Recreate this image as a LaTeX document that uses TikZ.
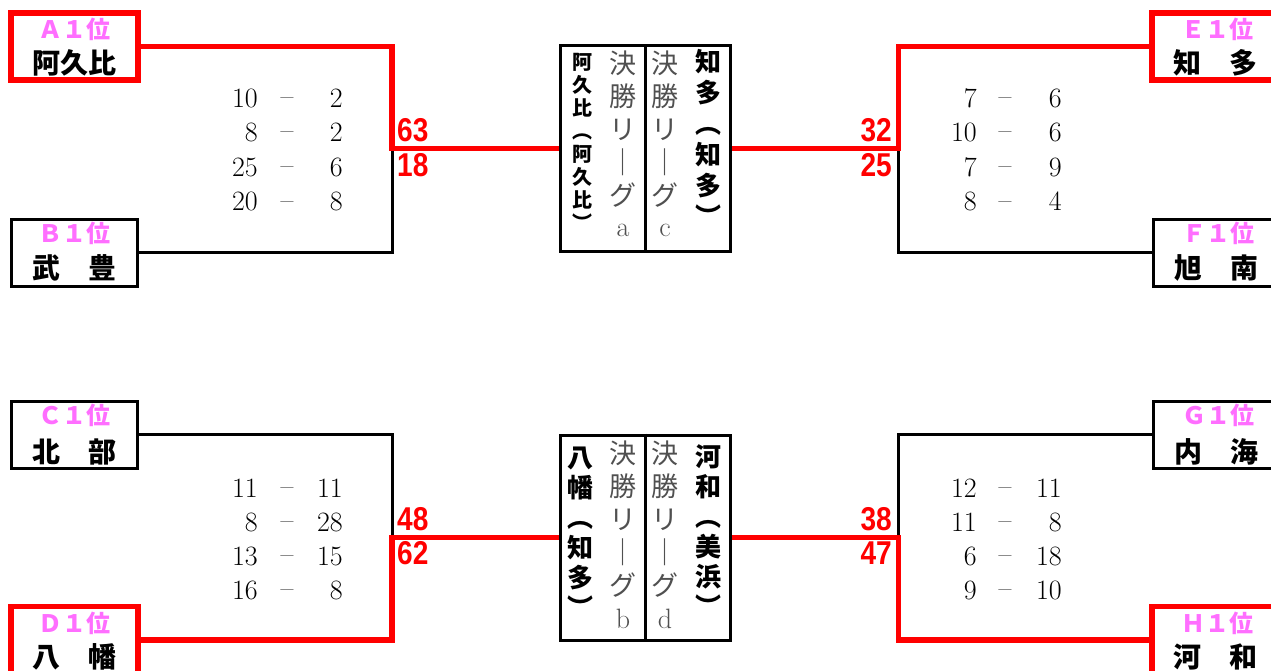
\documentclass[tikz,border=0pt]{standalone}
\usepackage{fontspec}
\newfontfamily\jp{Noto Sans CJK JP}
\newfontfamily\narrowf{Liberation Sans}[FakeStretch=0.85]
\definecolor{pinkl}{RGB}{255,110,255}
\definecolor{redl}{RGB}{255,0,0}
\definecolor{grayt}{RGB}{80,80,80}
\newcommand\scorerow[7]{%
  \node[score,anchor=east] (#1a) at (#2,#5) {#6};
  \node[score,yshift=2pt] (#1d) at (#3,#5) {--};
  \node[score,anchor=east] (#1b) at (#4,#5) {#7};}
\tikzset{
  redbox/.style={draw=redl, line width=5.5pt, minimum width=127pt, minimum height=67pt, inner sep=0pt},
  blackbox/.style={draw=black, line width=3pt, minimum width=126pt, minimum height=67pt, inner sep=0pt},
  lbl/.style={font=\jp\bfseries\fontsize{24}{24}\selectfont, text=pinkl, inner sep=0pt},
  team/.style={font=\jp\bfseries\fontsize{28}{28}\selectfont, text=black, inner sep=0pt},
  redline/.style={draw=redl, line width=5.5pt, line join=miter},
  blkline/.style={draw=black, line width=3pt, line join=miter},
  score/.style={font=\fontsize{28}{28}\selectfont, inner sep=0pt, text height=18pt, text depth=0pt},
  tot/.style={font=\narrowf\bfseries\fontsize{33}{33}\selectfont, text=redl, inner sep=0pt},
  midbox/.style={draw=black, line width=3pt, minimum width=170pt, minimum height=205pt, inner sep=0pt},
  vbs/.style={inner sep=0pt, text height=17pt, text depth=2pt, font=\jp\bfseries\fontsize{20}{20}\selectfont},
  vbl/.style={inner sep=0pt, text height=22pt, text depth=2.6pt, font=\jp\bfseries\fontsize{26}{26}\selectfont},
  vg/.style={inner sep=0pt, text height=23pt, text depth=2.7pt, font=\jp\fontsize{27}{27}\selectfont, text=grayt},
  vgl/.style={font=\fontsize{28}{28}\selectfont, text=grayt, inner sep=0pt},
}
\begin{document}
\begin{tikzpicture}[x=1pt,y=-1pt]
\fill[white] (0,0) rectangle (1271,671);
\useasboundingbox (0,0) rectangle (1271,671);

% team boxes
\node[redbox] (A) at (74.5,46.5) {};
\node[blackbox] (B) at (74,252.5) {};
\node[blackbox] (C) at (74,434.5) {};
\node[redbox] (D) at (74.5,640) {};
\node[redbox] (E) at (1215.5,46.5) {};
\node[blackbox] (F) at (1216.5,252.5) {};
\node[blackbox] (G) at (1216.5,434.5) {};
\node[redbox] (H) at (1215.5,640) {};

% centre boxes
\node[midbox] (M1) at (645,148.5) {};
\node[midbox] (M2) at (645,537.5) {};
\draw[blkline] (M1.north) -- (M1.south);
\draw[blkline] (M2.north) -- (M2.south);

% junctions
\coordinate (j1) at (392,148.5);
\coordinate (j2) at (898.5,148.5);
\coordinate (j3) at (392,537.5);
\coordinate (j4) at (898.5,537.5);

% connectors
\draw[blkline] (B.east) -| (j1);
\draw[redline] (A.east) -| (j1) -- (M1.west);
\draw[blkline] (F.west) -| (j2);
\draw[redline] (E.west) -| (j2) -- (M1.east);
\draw[blkline] (C.east) -| (j3);
\draw[redline] (D.east) -| (j3) -- (M2.west);
\draw[blkline] (G.west) -| (j4);
\draw[redline] (H.west) -| (j4) -- (M2.east);

% box labels
\node[lbl] (Al) at ([yshift=17.5pt]A.center) {Ａ１位};
\node[team] (An) at ([yshift=-16.5pt]A.center) {阿久比};
\node[lbl] (Bl) at ([yshift=19.5pt]B.center) {Ｂ１位};
\node[team] (Bn) at ([yshift=-15.5pt]B.center) {武　豊};
\node[lbl] (Cl) at ([yshift=19pt]C.center) {Ｃ１位};
\node[team] (Cn) at ([yshift=-17pt]C.center) {北　部};
\node[lbl] (Dl) at ([yshift=17pt]D.center) {Ｄ１位};
\node[team] (Dn) at ([yshift=-17pt]D.center) {八　幡};
\node[lbl] (El) at ([yshift=17.5pt,xshift=2pt]E.center) {Ｅ１位};
\node[team] (En) at ([yshift=-16.5pt]E.center) {知　多};
\node[lbl] (Fl) at ([yshift=19.5pt,xshift=2pt]F.center) {Ｆ１位};
\node[team] (Fn) at ([yshift=-15.5pt]F.center) {旭　南};
\node[lbl] (Gl) at ([yshift=19pt,xshift=2pt]G.center) {Ｇ１位};
\node[team] (Gn) at ([yshift=-17pt]G.center) {内　海};
\node[lbl] (Hl) at ([yshift=17pt,xshift=2pt]H.center) {Ｈ１位};
\node[team] (Hn) at ([yshift=-17pt]H.center) {河　和};

% totals
\node[tot,anchor=west] (t63) at (397,130) {63};
\node[tot,anchor=west] (t18) at (397,165) {18};
\node[tot,anchor=east] (t32) at (892,130) {32};
\node[tot,anchor=east] (t25) at (892,165) {25};
\node[tot,anchor=west] (t48) at (397,519) {48};
\node[tot,anchor=west] (t62) at (397,553) {62};
\node[tot,anchor=east] (t38) at (892,519) {38};
\node[tot,anchor=east] (t47) at (892,553) {47};

% game scores
\scorerow{ab1}{258}{287}{343}{99}{10}{2}
\scorerow{ab2}{258}{287}{343}{133}{8}{2}
\scorerow{ab3}{258}{287}{343}{168}{25}{6}
\scorerow{ab4}{258}{287}{343}{202}{20}{8}
\scorerow{ef1}{977}{1005}{1062}{99}{7}{6}
\scorerow{ef2}{977}{1005}{1062}{133}{10}{6}
\scorerow{ef3}{977}{1005}{1062}{168}{7}{9}
\scorerow{ef4}{977}{1005}{1062}{202}{8}{4}
\scorerow{cd1}{258}{287}{343}{488}{11}{11}
\scorerow{cd2}{258}{287}{343}{522}{8}{28}
\scorerow{cd3}{258}{287}{343}{556}{13}{15}
\scorerow{cd4}{258}{287}{343}{590}{16}{8}
\scorerow{gh1}{977}{1005}{1062}{488}{12}{11}
\scorerow{gh2}{977}{1005}{1062}{522}{11}{8}
\scorerow{gh3}{977}{1005}{1062}{556}{6}{18}
\scorerow{gh4}{977}{1005}{1062}{590}{9}{10}

% vertical texts, top centre box
\foreach \ch [count=\i] in {阿,久,比,︵,阿,久,比,︶}
  \node[vbs] (pa\i) at (582,{62+(\i-1)*23}) {\ch};
\foreach \ch [count=\i] in {決,勝,リ,｜,グ}
  \node[vg] (ga\i) at (623,{63+(\i-1)*33}) {\ch};
\node[vgl] (gaL) at (623,230) {a};
\foreach \ch [count=\i] in {決,勝,リ,｜,グ}
  \node[vg] (gc\i) at (665,{63+(\i-1)*33}) {\ch};
\node[vgl] (gcL) at (665,230) {c};
\foreach \ch [count=\i] in {知,多,︵,知,多,︶}
  \node[vbl] (pc\i) at (708,{62+(\i-1)*31}) {\ch};

% vertical texts, bottom centre box
\foreach \ch [count=\i] in {八,幡,︵,知,多,︶}
  \node[vbl] (pb\i) at (580,{458+(\i-1)*30}) {\ch};
\foreach \ch [count=\i] in {決,勝,リ,｜,グ}
  \node[vg] (gb\i) at (623,{453+(\i-1)*33}) {\ch};
\node[vgl] (gbL) at (623,619) {b};
\foreach \ch [count=\i] in {決,勝,リ,｜,グ}
  \node[vg] (gd\i) at (665,{453+(\i-1)*33}) {\ch};
\node[vgl] (gdL) at (665,619) {d};
\foreach \ch [count=\i] in {河,和,︵,美,浜,︶}
  \node[vbl] (pd\i) at (708,{457+(\i-1)*30}) {\ch};
\end{tikzpicture}
\end{document}
